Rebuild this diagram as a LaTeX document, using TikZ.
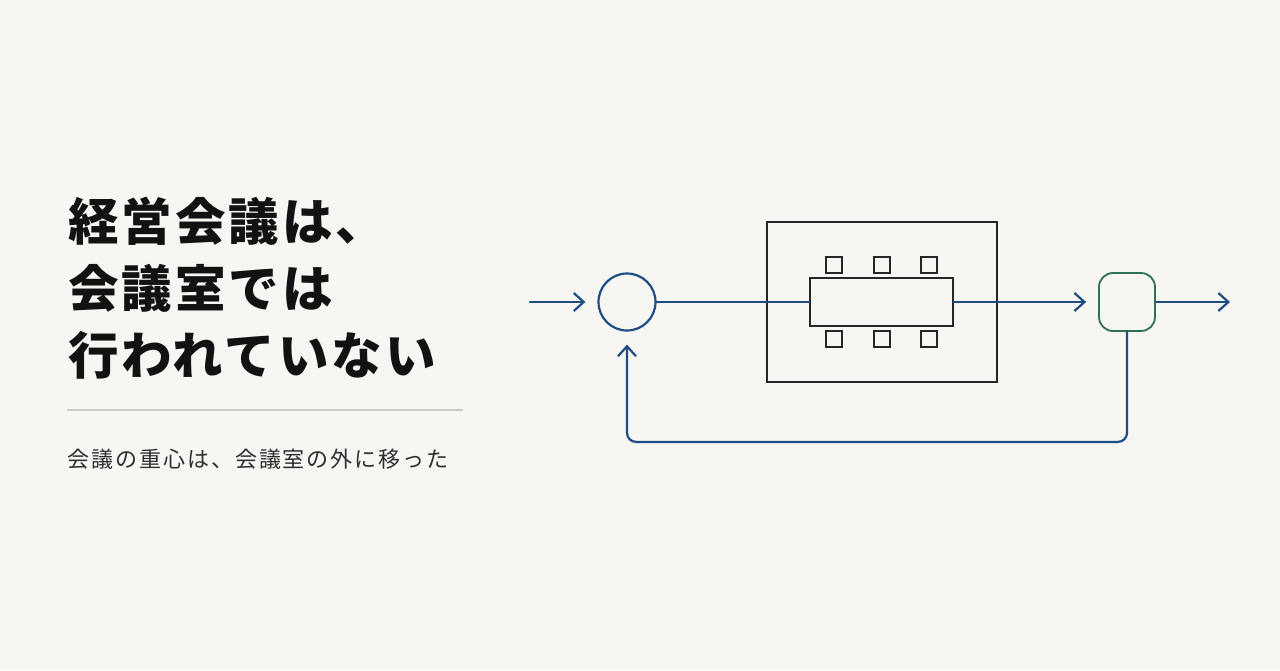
\documentclass[tikz,border=0pt]{standalone}
\usepackage{fontspec}
\usetikzlibrary{arrows.meta,positioning}
\newfontfamily\titlefont{Noto Sans CJK JP}[LetterSpace=6]
\newfontfamily\subfont{Noto Sans CJK JP}[LetterSpace=9]
\definecolor{bgpaper}{HTML}{F7F6F3}
\definecolor{flowblue}{HTML}{1E4D86}
\definecolor{outgreen}{HTML}{2F7058}
\definecolor{roomline}{HTML}{262626}
\definecolor{rulegray}{HTML}{C9C9C7}
\tikzset{
	flow/.style={draw=flowblue, line width=2.2pt, line cap=round, line join=round},
	barb/.style={-{Straight Barb[length=10pt,width=18pt]}},
	roombox/.style={draw=roomline, line width=1.6pt, minimum width=230pt, minimum height=160pt, inner sep=0pt},
	tablebox/.style={draw=roomline, line width=1.4pt, fill=bgpaper, minimum width=143pt, minimum height=48pt, inner sep=0pt},
	chair/.style={draw=roomline, line width=1.2pt, minimum size=16pt, inner sep=0pt},
	titleline/.style={anchor=base west, inner sep=0pt, text=black!93, font=\titlefont\bfseries\fontsize{50.5}{60}\selectfont}
}
\begin{document}
\begin{tikzpicture}[x=1pt,y=-1pt]
	\fill[bgpaper] (0,0) rectangle (1280,670);
	\useasboundingbox (0,0) rectangle (1280,670);
	% title
	\node[titleline] (title1) at (68,240) {経営会議は、};
	\node[titleline] (title2) at (68,307) {会議室では};
	\node[titleline] (title3) at (68,374) {行われていない};
	\draw[rulegray, line width=1.8pt] (67,410) coordinate (ruleL) -- (463,410) coordinate (ruleR);
	\node[anchor=base west, inner sep=0pt, text=black!82, font=\subfont\fontsize{22}{26}\selectfont] (subtitle) at (67,467) {会議の重心は、会議室の外に移った};
	% loop
	\coordinate (in) at (530,302);
	\node[circle, draw=flowblue, line width=2.2pt, minimum size=57pt, inner sep=0pt] (sum) at (627,302) {};
	\node[roombox] (room) at (882,302) {};
	\node[tablebox] (table) at (881.5,302) {};
	\foreach \x in {834,882,929}
	{
		\node[chair] at (\x,265) {};
		\node[chair] at (\x,339) {};
	}
	\node[rounded corners=14pt, draw=outgreen, line width=1.8pt, minimum width=56pt, minimum height=58pt, inner sep=0pt] (out) at (1127,302) {};
	\coordinate (end) at (1230,302);
	\draw[flow, barb, shorten >=12pt] (in) -- (sum);
	\draw[flow] (sum) -- (table);
	\draw[flow, barb, shorten >=12pt] (table) -- (out);
	\draw[flow, barb] (out) -- (end);
	\draw[flow, barb, rounded corners=9pt, shorten >=13pt] (out.south) -- ++(0,110) -| (sum.south);
\end{tikzpicture}
\end{document}
